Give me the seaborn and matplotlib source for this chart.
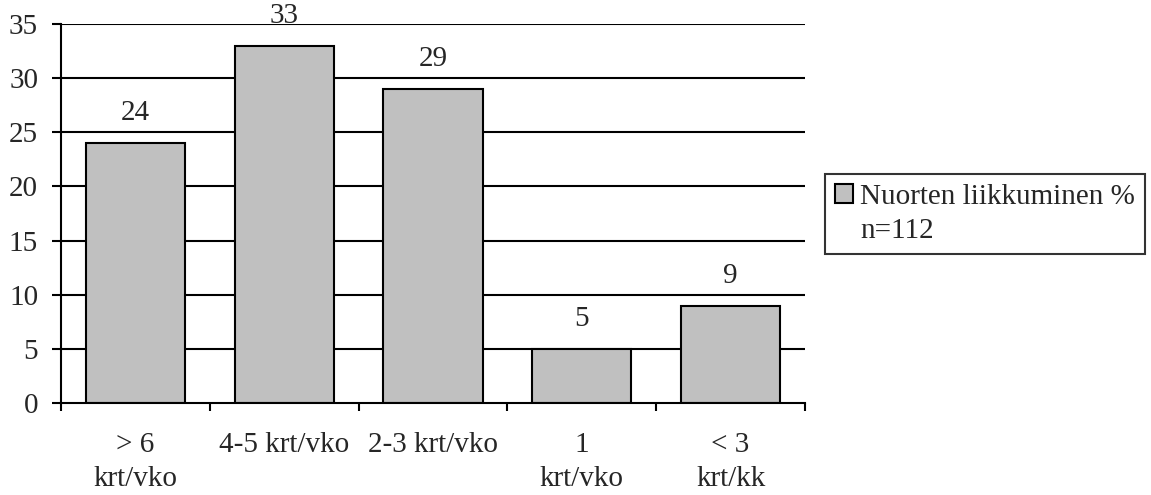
import matplotlib
matplotlib.use("Agg")
import matplotlib.pyplot as plt
import seaborn as sns
import pandas as pd
from matplotlib.ticker import FixedLocator

categories = ["> 6\nkrt/vko", "4-5 krt/vko", "2-3 krt/vko", "1\nkrt/vko", "< 3\nkrt/kk"]
values = [24, 33, 29, 5, 9]
series_label = "Nuorten liikkuminen %\nn=112"
y_ticks = [0, 5, 10, 15, 20, 25, 30, 35]

FS = 21

sns.set_theme(style="white")
plt.rcParams["font.family"] = ["Liberation Serif", "DejaVu Serif"]
plt.rcParams["font.size"] = FS

df = pd.DataFrame({"cat": categories, "val": values})

fig = plt.figure(figsize=(11.51, 4.95), dpi=100)
ax = fig.add_axes([61 / 1151, (495 - 403) / 495, (805 - 61) / 1151, (403 - 24) / 495])

sns.barplot(data=df, x="cat", y="val", ax=ax, color="#c0c0c0", saturation=1,
            edgecolor="black", linewidth=1.5, width=0.667, label=series_label,
            errorbar=None, zorder=3)

ax.set_xlim(-0.5, len(categories) - 0.5)
ax.set_ylim(0, 35)
ax.set_yticks(y_ticks)
ax.set_xlabel("")
ax.set_ylabel("")

# horizontal gridlines
for t in y_ticks[1:]:
    ax.axhline(t, color="black", linewidth=1.5, zorder=1)

# category separators as outward ticks on the x axis
ax.xaxis.set_minor_locator(FixedLocator([i - 0.5 for i in range(len(categories) + 1)]))
ax.tick_params(axis="x", which="major", length=0, pad=21, labelsize=FS)
ax.tick_params(axis="x", which="minor", length=6, width=1.5, color="black", direction="out", bottom=True)
ax.tick_params(axis="y", which="major", length=6.5, width=1.5, color="black", direction="out", left=True, labelsize=FS, pad=10)
for lbl in ax.get_xticklabels():
    lbl.set_linespacing(1.38)

for s in ["top", "right"]:
    ax.spines[s].set_visible(False)
for s in ["left", "bottom"]:
    ax.spines[s].set_color("black")
    ax.spines[s].set_linewidth(1.5)
    ax.spines[s].set_zorder(4)

for container in ax.containers:
    ax.bar_label(container, labels=[str(v) for v in values], padding=12, fontsize=FS)

leg = ax.legend(loc="upper left", bbox_to_anchor=(825 / 1151, 1 - 174 / 495),
                bbox_transform=fig.transFigure, frameon=True, fancybox=False,
                edgecolor="black", fontsize=FS, handlelength=0.62, handleheight=0.62,
                handletextpad=0.24, borderpad=0.35, borderaxespad=0)
leg.get_frame().set_linewidth(1.5)
for t in leg.get_texts():
    t.set_multialignment("left")
    t.set_linespacing(1.4)
# keep the swatch beside the first text line
for column in leg._legend_handle_box.get_children():
    for item in column.get_children():
        item.align = "top"

fig.savefig("out.png", dpi=100)
